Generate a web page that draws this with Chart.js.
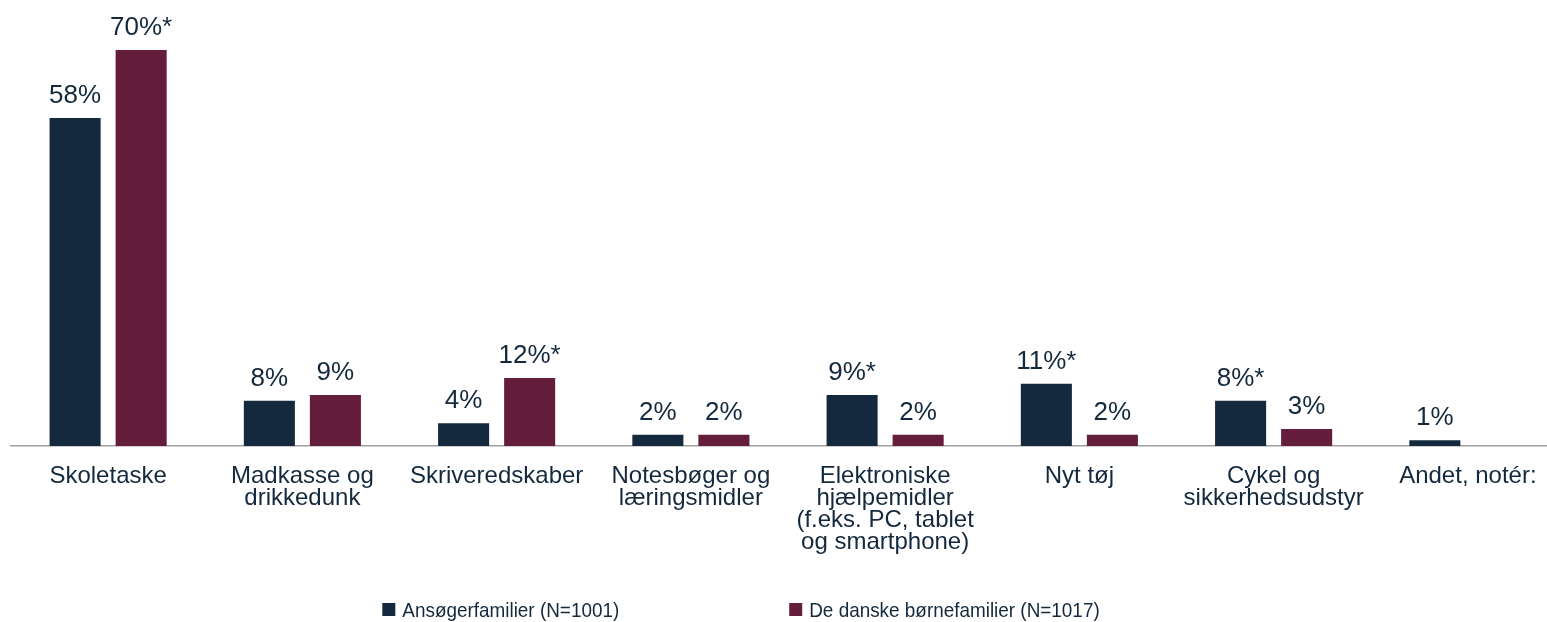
<!DOCTYPE html>
<html lang="da">
<head>
<meta charset="utf-8">
<title>Skolestart</title>
<script src="https://cdn.jsdelivr.net/npm/chart.js@4.4.1/dist/chart.umd.min.js"></script>
<style>
    html, body { margin: 0; padding: 0; background: #fff; overflow: hidden; }
    #wrap { width: 1565px; height: 622px; }
</style>
</head>
<body>
<div id="wrap"><canvas id="chartSkole" width="1565" height="622"></canvas></div>
<script>
// Kategorier (x-aksen)
const kategorier = [
    'Skoletaske',
    ['Madkasse og', 'drikkedunk'],
    'Skriveredskaber',
    ['Notesbøger og', 'læringsmidler'],
    ['Elektroniske', 'hjælpemidler', '(f.eks. PC, tablet', 'og smartphone)'],
    'Nyt tøj',
    ['Cykel og', 'sikkerhedsudstyr'],
    'Andet, notér:'
];

// Serier
const serieNavne = ['Ansøgerfamilier (N=1001)', 'De danske børnefamilier (N=1017)'];
const ansoegerfamilier = [58, 8, 4, 2, 9, 11, 8, 1];
const danskeFamilier = [70, 9, 12, 2, 2, 2, 3, null];

// Signifikante forskelle (markeres med *)
const ansoegerStjerne = [false, false, false, false, true, true, true, false];
const danskeStjerne = [true, false, true, false, false, false, false, false];

const farver = ['#14293d', '#641e3c'];
const tekstFarve = '#14293d';
const skrift = '"Liberation Sans", Arial, sans-serif';

// Procentlabels over søjlerne
const vaerdiPlugin = {
    id: 'vaerdier',
    afterDatasetsDraw(chart) {
        const ctx = chart.ctx;
        const stjerner = [ansoegerStjerne, danskeStjerne];
        ctx.save();
        ctx.font = '26px ' + skrift;
        ctx.fillStyle = tekstFarve;
        ctx.textAlign = 'center';
        ctx.textBaseline = 'alphabetic';
        chart.data.datasets.forEach((ds, i) => {
            const meta = chart.getDatasetMeta(i);
            meta.data.forEach((bar, j) => {
                const v = ds.data[j];
                if (v === null || v === undefined) return;
                const tekst = v + '%' + (stjerner[i][j] ? '*' : '');
                ctx.fillText(tekst, bar.x, bar.y - 15);
            });
        });
        ctx.restore();
    }
};

// Forklaring nederst (lidt smal skrift som i originalen)
const legendePlugin = {
    id: 'legende',
    afterDraw(chart) {
        const ctx = chart.ctx;
        const smal = 0.9;
        ctx.save();
        ctx.font = '21px ' + skrift;
        ctx.textBaseline = 'middle';
        const boks = 13, luft = 7, mellemrum = 170;
        const bredder = chart.data.datasets.map(ds => boks + luft + ctx.measureText(ds.label).width * smal);
        const total = bredder.reduce((a, b) => a + b, 0) + mellemrum * (bredder.length - 1);
        let x = 741 - total / 2;
        const y = 610;
        chart.data.datasets.forEach((ds, i) => {
            ctx.fillStyle = ds.backgroundColor;
            ctx.fillRect(x, y - 7, boks, boks);
            ctx.fillStyle = tekstFarve;
            ctx.save();
            ctx.translate(x + boks + luft, y + 1);
            ctx.scale(smal, 1);
            ctx.fillText(ds.label, 0, 0);
            ctx.restore();
            x += bredder[i] + mellemrum;
        });
        ctx.restore();
    }
};

const ctxSkole = document.getElementById('chartSkole').getContext('2d');
const chart = new Chart(ctxSkole, {
    type: 'bar',
    data: {
        labels: kategorier,
        datasets: [
            {
                label: serieNavne[0],
                data: ansoegerfamilier,
                backgroundColor: farver[0],
                borderWidth: 0
            },
            {
                label: serieNavne[1],
                data: danskeFamilier,
                backgroundColor: farver[1],
                borderWidth: 0
            }
        ]
    },
    options: {
        responsive: false,
        animation: false,
        devicePixelRatio: 1,
        categoryPercentage: 0.68,
        barPercentage: 0.773,
        layout: {
            padding: { left: 11, right: 0, top: 0, bottom: 0 }
        },
        plugins: {
            legend: { display: false },
            tooltip: { enabled: false }
        },
        scales: {
            x: {
                grid: { display: false, drawTicks: false },
                border: { display: true, color: '#a0a0a0', width: 1.5 },
                ticks: {
                    color: tekstFarve,
                    font: { family: skrift, size: 24, lineHeight: 0.917 },
                    padding: 19,
                    maxRotation: 0,
                    autoSkip: false
                },
                afterFit(scale) {
                    scale.height = 176;
                }
            },
            y: {
                display: false,
                min: 0,
                max: 78.84
            }
        }
    },
    plugins: [vaerdiPlugin, legendePlugin]
});
</script>
</body>
</html>
